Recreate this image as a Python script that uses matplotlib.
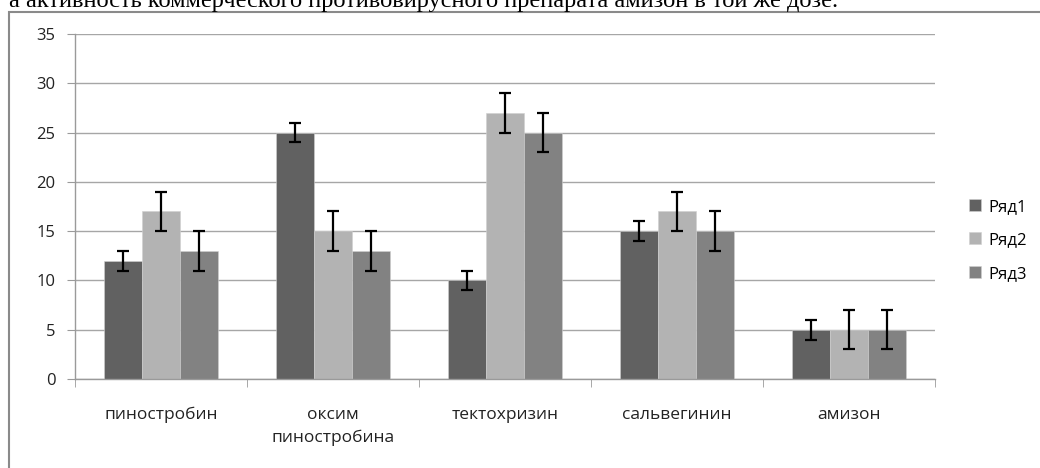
import matplotlib

matplotlib.use("Agg")
import matplotlib.pyplot as plt
import numpy as np
from matplotlib.patches import Rectangle

# --- data -------------------------------------------------------------------
CATEGORIES = ["пиностробин", "оксим\nпиностробина", "тектохризин", "сальвегинин", "амизон"]
SERIES = ["Ряд1", "Ряд2", "Ряд3"]
ROW1 = [12, 25, 10, 15, 5]
ROW2 = [17, 15, 27, 17, 5]
ROW3 = [13, 13, 25, 15, 5]
ERR1 = [1, 1, 1, 1, 1]
ERR2 = [2, 2, 2, 2, 2]
ERR3 = [2, 2, 2, 2, 2]
COLORS = ["#616161", "#b3b3b3", "#828282"]
CAPTION = "а активность коммерческого противовирусного препарата амизон в той же дозе."

plt.rcParams["font.family"] = ["Open Sans", "DejaVu Sans"]

fig = plt.figure(figsize=(10.4, 4.68), dpi=100)
ax = fig.add_axes([75 / 1040, 1 - 379 / 468, 860 / 1040, 345 / 468])

x = np.arange(len(CATEGORIES))
w = 0.221
for i, (vals, errs) in enumerate(zip([ROW1, ROW2, ROW3], [ERR1, ERR2, ERR3])):
    pos = x + (i - 1) * w
    ax.bar(pos, vals, w, color=COLORS[i], edgecolor="#d0d0d0", linewidth=0.4,
           label=SERIES[i], zorder=2)
    ax.errorbar(pos, vals, yerr=errs, fmt="none", ecolor="black", elinewidth=1.6,
                capsize=4, capthick=1.6, zorder=3)

ax.set_xlim(-0.5, len(CATEGORIES) - 0.5)
ax.set_ylim(0, 35)
ax.set_yticks(range(0, 36, 5))
ax.yaxis.grid(True, color="#a6a6a6", lw=1, zorder=0)
ax.set_axisbelow(True)

for s in ["top", "right"]:
    ax.spines[s].set_visible(False)
for s in ["left", "bottom"]:
    ax.spines[s].set_color("#9a9a9a")
    ax.spines[s].set_linewidth(1)

ax.set_xticks(x)
ax.set_xticklabels(CATEGORIES, fontsize=12.5, color="#222222", linespacing=1.55)
ax.tick_params(axis="x", length=0, pad=20)
# category boundary ticks
ax.set_xticks(np.arange(-0.5, len(CATEGORIES)), minor=True)
ax.tick_params(axis="x", which="minor", length=6, color="#9a9a9a", direction="out")
ax.tick_params(axis="y", length=6, color="#9a9a9a", labelsize=12, labelcolor="#222222", pad=8)

leg = fig.legend(loc="upper left", bbox_to_anchor=(962 / 1040, 1 - 192 / 468),
                 frameon=False, fontsize=12, handlelength=0.75, handleheight=0.75,
                 labelspacing=1.05, handletextpad=0.45, borderaxespad=0)

# outer chart frame (cut off at right and bottom)
fig.patches.append(Rectangle((9 / 1040, -0.05), 1.2, 1 - 12 / 468 + 0.05,
                             transform=fig.transFigure, fill=False,
                             edgecolor="#8a8a8a", lw=1.5))

fig.text(838 / 1040, 1 - 7 / 468, CAPTION, ha="right", va="baseline",
         fontsize=17.6, family=["Liberation Serif", "DejaVu Serif"])

fig.savefig("out.png", dpi=100)
